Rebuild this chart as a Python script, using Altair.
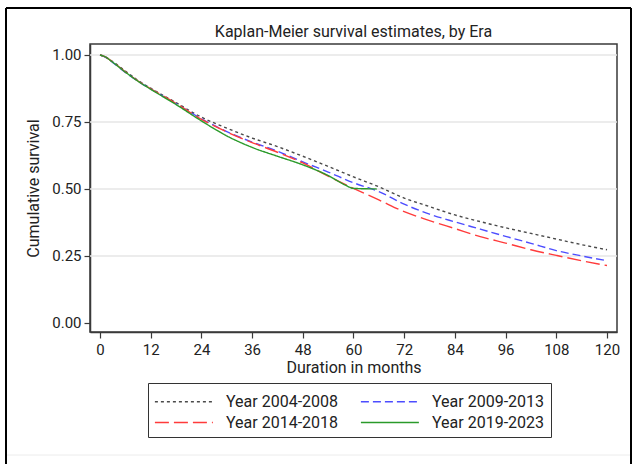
import altair as alt
import pandas as pd

# Kaplan-Meier survival estimates by era (cumulative survival by month)
months = [0, 1, 3, 6, 9, 12, 18, 24, 30, 36, 42, 48, 54, 60, 66, 72, 78, 84, 90, 96, 102, 108, 114, 120]
surv_2004_2008 = [1.0, 0.995, 0.975, 0.940, 0.905, 0.876, 0.822, 0.768, 0.727, 0.690, 0.658, 0.622,
                  0.584, 0.545, 0.508, 0.466, 0.434, 0.403, 0.378, 0.355, 0.334, 0.313, 0.292, 0.273]
surv_2009_2013 = [1.0, 0.994, 0.972, 0.935, 0.902, 0.873, 0.818, 0.762, 0.714, 0.675, 0.641, 0.601,
                  0.563, 0.523, 0.490, 0.443, 0.406, 0.377, 0.350, 0.323, 0.297, 0.270, 0.250, 0.232]
surv_2014_2018 = [1.0, 0.995, 0.974, 0.937, 0.903, 0.874, 0.819, 0.760, 0.713, 0.673, 0.637, 0.597,
                  0.548, 0.502, 0.459, 0.415, 0.382, 0.352, 0.322, 0.298, 0.273, 0.252, 0.232, 0.214]
months_2019_2023 = [0, 1, 3, 6, 9, 12, 18, 24, 30, 36, 42, 48, 54, 58, 60, 65.5]
surv_2019_2023 = [1.0, 0.995, 0.973, 0.936, 0.902, 0.872, 0.815, 0.754, 0.698, 0.655, 0.622, 0.590,
                  0.550, 0.515, 0.502, 0.500]

eras = ["Year 2004-2008", "Year 2009-2013", "Year 2014-2018", "Year 2019-2023"]
era_colors = ["#4a4a4a", "#4d4dff", "#ff3b3b", "#2a9a2a"]
era_dashes = [[3, 3], [8, 4], [14, 5], [1, 0]]

x_ticks = list(range(0, 121, 12))
y_ticks = [0.0, 0.25, 0.5, 0.75, 1.0]
grid_values = [0.25, 0.5, 0.75, 1.0]

FONT = "Roboto"
INK = "#3a3a3a"

series = [
    (eras[0], months, surv_2004_2008),
    (eras[1], months, surv_2009_2013),
    (eras[2], months, surv_2014_2018),
    (eras[3], months_2019_2023, surv_2019_2023),
]
rows = []
for era, mm, ss in series:
    for m, s in zip(mm, ss):
        rows.append({"era": era, "month": m, "surv": s})
df = pd.DataFrame(rows)

x_scale = alt.Scale(domain=[-2.37, 122.37], nice=False, zero=False)
y_scale = alt.Scale(domain=[-0.034, 1.041], nice=False, zero=False)
y_axis = alt.Axis(values=y_ticks, format=".2f", title="Cumulative survival",
                  labelPadding=3, titlePadding=10)

# long legend key: a horizontal stroke drawn mostly to the right of its nominal box
key_path = "M-1,0H4"
legend = alt.Legend(
    title=None, orient="none", legendX=58, legendY=339, columns=2, direction="horizontal",
    symbolType=key_path, symbolSize=538, symbolStrokeWidth=1.4,
    labelFont=FONT, labelFontSize=16, labelColor="#222222", labelOffset=47,
    padding=6, strokeColor="#333333", fillColor="white",
    rowPadding=-2, columnPadding=19,
)

grid = alt.Chart(pd.DataFrame({"g": grid_values})).mark_rule(
    color="#e6e6e6", strokeWidth=1.5
).encode(y=alt.Y("g:Q", scale=y_scale, axis=y_axis))

lines = alt.Chart(df).mark_line(strokeWidth=1.4, interpolate="monotone").encode(
    x=alt.X("month:Q", scale=x_scale,
            axis=alt.Axis(values=x_ticks, title="Duration in months",
                          labelPadding=4, titlePadding=2)),
    y=alt.Y("surv:Q", scale=y_scale, axis=y_axis),
    color=alt.Color("era:N", scale=alt.Scale(domain=eras, range=era_colors), legend=legend),
    strokeDash=alt.StrokeDash("era:N", scale=alt.Scale(domain=eras, range=era_dashes), legend=legend),
)

# page frame around the whole figure
one = pd.DataFrame({"k": [0]})
frame_left = alt.Chart(one).mark_rule(color="black", strokeWidth=2).encode(
    x=alt.value(-84), y=alt.value(-36), y2=alt.value(440))
frame_top = alt.Chart(one).mark_rule(color="black", strokeWidth=2).encode(
    x=alt.value(-84), x2=alt.value(541), y=alt.value(-36))
frame_right = alt.Chart(one).mark_rule(color="black", strokeWidth=2).encode(
    x=alt.value(541), y=alt.value(-36), y2=alt.value(440))
frame_sep = alt.Chart(one).mark_rule(color="#ececec", strokeWidth=1).encode(
    x=alt.value(-83), x2=alt.value(540), y=alt.value(411))

chart = alt.layer(grid, lines, frame_left, frame_top, frame_right, frame_sep).properties(
    width=527, height=288,
    autosize=alt.AutoSizeParams(type="none"),
    padding={"left": 90, "top": 44, "right": 21, "bottom": 132},
    title=alt.TitleParams("Kaplan-Meier survival estimates, by Era", font=FONT, fontSize=16,
                          fontWeight="normal", color="#222222", offset=-33, anchor="middle"),
).configure_view(
    stroke=INK, strokeWidth=1.5
).configure_axis(
    domainColor=INK, domainWidth=1.5, tickColor=INK, tickWidth=1.2, tickSize=6,
    labelFont=FONT, labelFontSize=15, labelColor="#222222",
    titleFont=FONT, titleFontSize=16, titleFontWeight="normal", titleColor="#222222",
    grid=False,
)

chart.save("out.html", embed_options={"renderer": "svg", "actions": False})
